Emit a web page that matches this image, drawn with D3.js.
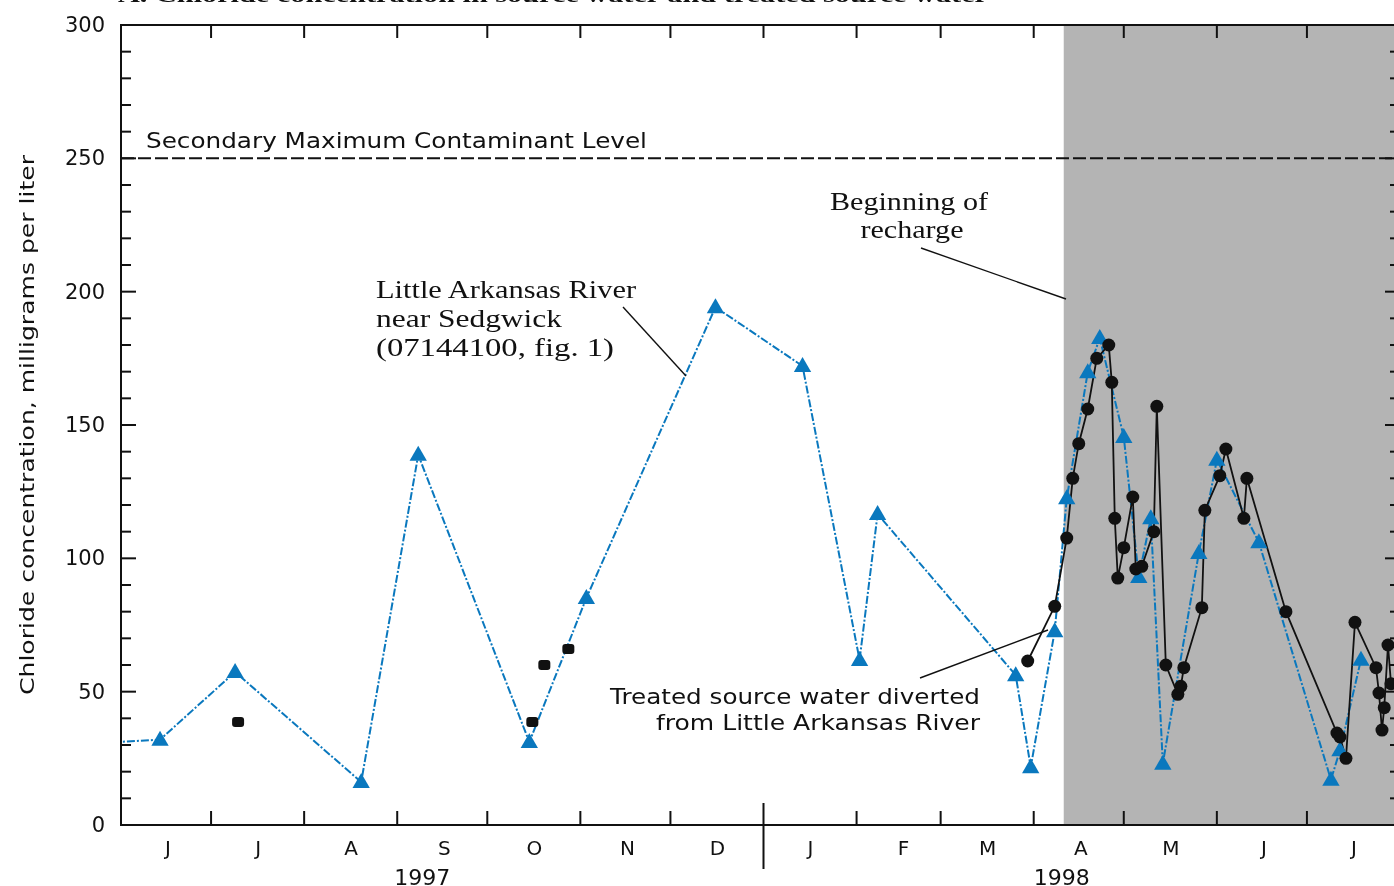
<!DOCTYPE html>
<head>
<meta charset="utf-8">
<title>Chloride concentration</title>
<style>
html, body { margin:0; padding:0; overflow:hidden; background-color:#ffffff; }
svg { position:fixed; top:0; left:0; }
text { fill:#111; }
.sans { font-family:'DejaVu Sans', sans-serif; }
.serif { font-family:'Liberation Serif', serif; }
</style>
</head>
<body>
<svg id="stage" width="1394" height="886"></svg>
<script src="https://cdn.jsdelivr.net/npm/d3@7/dist/d3.min.js"></script>
<script>

// Little Arkansas River near Sedgwick (blue triangles)
var riverDates = ["1997-05-20","1997-06-14","1997-07-09","1997-08-20","1997-09-08","1997-10-15","1997-11-03",
  "1997-12-16","1998-01-14","1998-02-02","1998-02-08","1998-03-26","1998-03-31","1998-04-08","1998-04-12",
  "1998-04-19","1998-04-23","1998-05-01","1998-05-06","1998-05-10","1998-05-14","1998-05-26","1998-06-01",
  "1998-06-15","1998-07-09","1998-07-12","1998-07-19"];
var riverValues = [30.5,32,57.4,16.1,138.8,31.1,85.1,194.2,172.1,61.9,116.6,56.2,21.7,72.7,122.5,
  169.8,182.6,145.5,93,115,23,102,137,106,17,28,62];

// treated source water, isolated samples before recharge
var spotDates = ["1997-07-10","1997-10-16","1997-10-20","1997-10-28"];
var spotValues = [38.6,38.6,60,66];

// treated source water, continuous record
var treatedDates = ["1998-03-30","1998-04-08","1998-04-12","1998-04-14","1998-04-16","1998-04-19","1998-04-22",
  "1998-04-26","1998-04-27","1998-04-28","1998-04-29","1998-05-01","1998-05-04","1998-05-05","1998-05-07",
  "1998-05-11","1998-05-12","1998-05-15","1998-05-19","1998-05-20","1998-05-21","1998-05-27","1998-05-28",
  "1998-06-02","1998-06-04","1998-06-10","1998-06-11","1998-06-24","1998-07-11","1998-07-12","1998-07-14",
  "1998-07-17","1998-07-24","1998-07-25","1998-07-26","1998-07-26T18:00","1998-07-28","1998-07-29"];
var treatedValues = [61.5,82,107.6,130,143,156,175,180,166,115,92.6,104,123,96,97,110,157,60,49,52,59,
  81.5,118,131,141,115,130,80,34.5,33,25,76,59,49.5,35.6,44,67.5,53];

var monthLabels = ["J","J","A","S","O","N","D","J","F","M","A","M","J","J"];
var yearLabels = ["1997","1998"];
var yTicks = [0,50,100,150,200,250,300];
var smcl = 250;
var rechargeStart = "1998-04-11";

var svg = d3.select("#stage");

var pL = 121, pR = 1400, pT = 25, pB = 825;
var x = d3.scaleTime()
    .domain([new Date(1997,5,1), new Date(1998,7,1)])
    .range([pL, pR]);
var y = d3.scaleLinear().domain([0,300]).range([pB, pT]);

var toDate = function(s){
  var p = s.split("T"), d = p[0].split("-").map(Number);
  var h = p[1] ? +p[1].split(":")[0] : 0;
  return new Date(d[0], d[1]-1, d[2], h);
};

var river = riverDates.map(function(d,i){ return {date:toDate(d), v:riverValues[i]}; });
var spots = spotDates.map(function(d,i){ return {date:toDate(d), v:spotValues[i]}; });
var treated = treatedDates.map(function(d,i){ return {date:toDate(d), v:treatedValues[i]}; });

svg.append("defs").append("clipPath").attr("id","plot")
  .append("rect").attr("x",pL).attr("y",pT).attr("width",pR-pL).attr("height",pB-pT);

// recharge shading
svg.append("rect")
  .attr("x", x(toDate(rechargeStart)))
  .attr("y", pT)
  .attr("width", pR - x(toDate(rechargeStart)))
  .attr("height", pB - pT)
  .attr("fill", "#b4b4b4");

// cut-off title remnant at very top
svg.append("text").attr("class","serif")
  .attr("x", 118).attr("y", 2)
  .attr("font-size", 22).attr("font-weight","bold")
  .attr("textLength", 870).attr("lengthAdjust","spacingAndGlyphs")
  .text("A. Chloride concentration in source water and treated source water");

// SMCL
svg.append("line")
  .attr("x1", pL).attr("x2", pR)
  .attr("y1", y(smcl)).attr("y2", y(smcl))
  .attr("stroke", "#111").attr("stroke-width", 2)
  .attr("stroke-dasharray", "13,4");
svg.append("text").attr("class","sans")
  .attr("x", 146).attr("y", 148)
  .attr("font-size", 21)
  .attr("textLength", 501).attr("lengthAdjust","spacingAndGlyphs")
  .text("Secondary Maximum Contaminant Level");

var g = svg.append("g").attr("clip-path","url(#plot)");

var line = d3.line().x(function(d){ return x(d.date); }).y(function(d){ return y(d.v); });

g.append("path").datum(river)
  .attr("d", line)
  .attr("fill","none").attr("stroke","#0a78be").attr("stroke-width",2)
  .attr("stroke-dasharray","8,2,2,2");

g.append("path").datum(treated)
  .attr("d", line)
  .attr("fill","none").attr("stroke","#111").attr("stroke-width",1.8);

g.selectAll(".tri").data(river).enter().append("path")
  .attr("class","tri")
  .attr("d", d3.symbol().type(d3.symbolTriangle).size(130))
  .attr("transform", function(d){ return "translate(" + x(d.date) + "," + (y(d.v)+1) + ")"; })
  .attr("fill","#0a78be");

g.selectAll(".dot").data(treated).enter().append("circle")
  .attr("class","dot")
  .attr("cx", function(d){ return x(d.date); })
  .attr("cy", function(d){ return y(d.v); })
  .attr("r", 6.5).attr("fill","#111");

g.selectAll(".spot").data(spots).enter().append("rect")
  .attr("class","spot")
  .attr("x", function(d){ return x(d.date) - 6; })
  .attr("y", function(d){ return y(d.v) - 5; })
  .attr("width", 12).attr("height", 10).attr("rx", 3)
  .attr("fill","#111");

// frame and ticks
var axis = svg.append("g").attr("stroke","#111").attr("stroke-width",2);
axis.append("line").attr("x1",pL).attr("x2",pL).attr("y1",pT-1).attr("y2",pB+1);
axis.append("line").attr("x1",pR).attr("x2",pR).attr("y1",pT-1).attr("y2",pB+1);
axis.append("line").attr("x1",pL-1).attr("x2",pR).attr("y1",pT).attr("y2",pT);
axis.append("line").attr("x1",pL-1).attr("x2",pR).attr("y1",pB).attr("y2",pB);

d3.range(10, 300, 10).forEach(function(v){
  var len = v % 50 === 0 ? 15 : 10;
  axis.append("line").attr("x1",pL).attr("x2",pL+len).attr("y1",y(v)).attr("y2",y(v));
  axis.append("line").attr("x1",pR-len).attr("x2",pR).attr("y1",y(v)).attr("y2",y(v));
});

var monthStarts = d3.timeMonth.range(new Date(1997,6,1), new Date(1998,7,1));
monthStarts.forEach(function(m){
  var xm = x(m);
  axis.append("line").attr("x1",xm).attr("x2",xm).attr("y1",pT).attr("y2",pT+13);
  if (m.getMonth() === 0) {
    axis.append("line").attr("x1",xm).attr("x2",xm).attr("y1",pB-22).attr("y2",pB+44);
  } else {
    axis.append("line").attr("x1",xm).attr("x2",xm).attr("y1",pB-14).attr("y2",pB);
  }
});

// labels
svg.selectAll(".ylab").data(yTicks).enter().append("text")
  .attr("class","sans ylab")
  .attr("x", 105).attr("y", function(d){ return y(d) + 7; })
  .attr("text-anchor","end").attr("font-size", 21)
  .text(function(d){ return d; });

var months = d3.timeMonth.range(new Date(1997,5,1), new Date(1998,7,1));
svg.selectAll(".mlab").data(months).enter().append("text")
  .attr("class","sans mlab")
  .attr("x", function(d){ return x(d3.timeDay.offset(d, 15)) + 2; })
  .attr("y", 855).attr("text-anchor","middle").attr("font-size", 20)
  .text(function(d,i){ return monthLabels[i]; });

var yearSpans = [[new Date(1997,5,1), new Date(1998,0,1)], [new Date(1998,0,1), new Date(1998,7,1)]];
svg.selectAll(".yrlab").data(yearSpans).enter().append("text")
  .attr("class","sans yrlab")
  .attr("x", function(d){ return (x(d[0]) + x(d[1]))/2 - 20; })
  .attr("y", 885).attr("text-anchor","middle").attr("font-size", 21)
  .attr("textLength", 56).attr("lengthAdjust","spacingAndGlyphs")
  .text(function(d,i){ return yearLabels[i]; });

svg.append("text").attr("class","sans")
  .attr("transform","translate(34,425) rotate(-90)")
  .attr("text-anchor","middle").attr("font-size", 20)
  .attr("textLength", 540).attr("lengthAdjust","spacingAndGlyphs")
  .text("Chloride concentration, milligrams per liter");

// annotations
var river1 = ["Little Arkansas River","near Sedgwick","(07144100, fig. 1)"];
var river1W = [260, 186, 238];
river1.forEach(function(t,i){
  svg.append("text").attr("class","serif")
    .attr("x", 376).attr("y", 298 + i*29).attr("font-size", 25)
    .attr("textLength", river1W[i]).attr("lengthAdjust","spacingAndGlyphs")
    .text(t);
});
svg.append("line").attr("x1",623).attr("y1",307).attr("x2",686).attr("y2",376)
  .attr("stroke","#111").attr("stroke-width",1.4);

var rech = ["Beginning of","recharge"];
var rechW = [158, 103];
rech.forEach(function(t,i){
  svg.append("text").attr("class","serif")
    .attr("x", 909 + i*3).attr("y", 210 + i*28).attr("font-size", 25)
    .attr("text-anchor","middle")
    .attr("textLength", rechW[i]).attr("lengthAdjust","spacingAndGlyphs")
    .text(t);
});
svg.append("line").attr("x1",921).attr("y1",248).attr("x2",1066).attr("y2",299)
  .attr("stroke","#111").attr("stroke-width",1.4);

var treatedNote = ["Treated source water diverted","from Little Arkansas River"];
var treatedW = [370, 324];
treatedNote.forEach(function(t,i){
  svg.append("text").attr("class","sans")
    .attr("x", 980).attr("y", 704 + i*26).attr("font-size", 21)
    .attr("text-anchor","end")
    .attr("textLength", treatedW[i]).attr("lengthAdjust","spacingAndGlyphs")
    .text(t);
});
svg.append("line").attr("x1",920).attr("y1",678).attr("x2",1048).attr("y2",630)
  .attr("stroke","#111").attr("stroke-width",1.4);

</script>
</body>
